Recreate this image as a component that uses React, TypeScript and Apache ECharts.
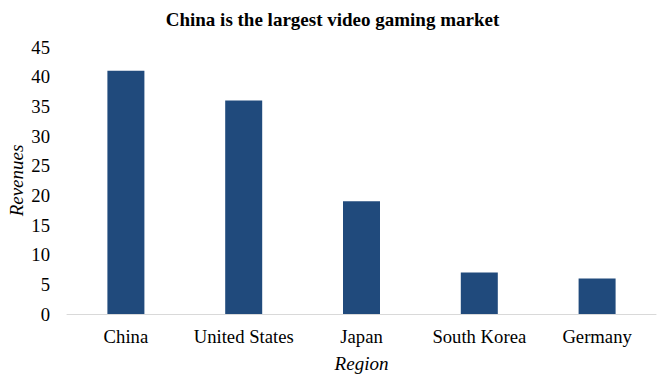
import React, { useEffect, useRef } from "react";
import * as echarts from "echarts";

const categories = ["China", "United States", "Japan", "South Korea", "Germany"];
const revenues = [41, 36, 19, 7, 6];
const titleText = "China is the largest video gaming market";
const xName = "Region";
const yName = "Revenues";

export default function App() {
  const ref = useRef<HTMLDivElement>(null);
  useEffect(() => {
    document.body.style.margin = "0";
    const chart = echarts.init(ref.current!, null, { renderer: "svg" });
    const font = "Liberation Serif";
    chart.setOption({
      animation: false,
      textStyle: { fontFamily: font },
      title: {
        text: titleText,
        left: "center",
        top: 5,
        textStyle: { fontFamily: font, fontWeight: "bold", fontSize: 19, color: "#000" },
      },
      grid: { left: 67, right: 9, top: 47, bottom: 67, containLabel: false, outerBoundsMode: "none" },
      xAxis: {
        type: "category",
        data: categories,
        name: xName,
        nameLocation: "middle",
        nameGap: 40,
        nameTextStyle: { fontFamily: font, fontStyle: "italic", fontSize: 19, color: "#000" },
        axisLine: { lineStyle: { color: "#d9d9d9" } },
        axisTick: { show: false },
        axisLabel: { fontFamily: font, fontSize: 18.67, color: "#000", margin: 13, interval: 0 },
      },
      yAxis: {
        type: "value",
        min: 0,
        max: 45,
        interval: 5,
        name: yName,
        nameLocation: "middle",
        nameGap: 41,
        nameMoveOverlap: false,
        nameRotate: 90,
        nameTextStyle: { fontFamily: font, fontStyle: "italic", fontSize: 19, color: "#000" },
        axisLine: { show: false },
        axisTick: { show: false },
        splitLine: { show: false },
        axisLabel: { fontFamily: font, fontSize: 18.67, color: "#000", margin: 17 },
      },
      series: [
        {
          type: "bar",
          data: revenues,
          barWidth: 37,
          itemStyle: { color: "#204A7C" },
        },
      ],
    });
    return () => chart.dispose();
  }, []);
  return <div ref={ref} style={{ width: 665, height: 381 }} />;
}
